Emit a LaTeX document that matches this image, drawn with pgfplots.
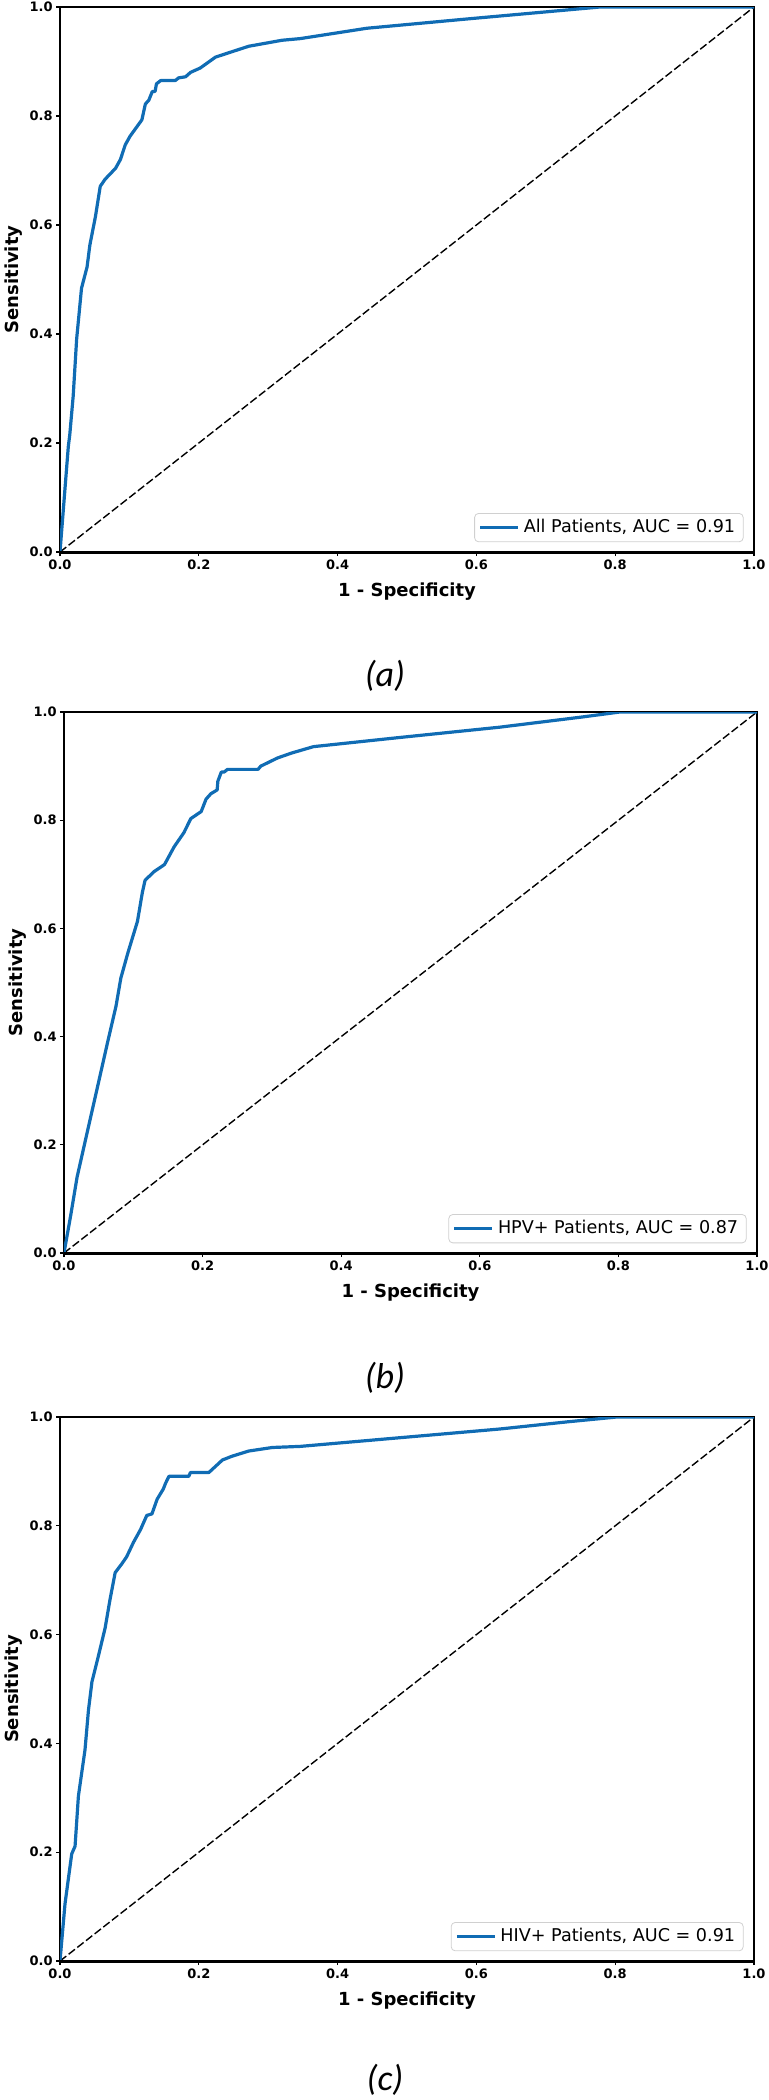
\documentclass[border=0pt]{standalone}
\usepackage{pgfplots}
\pgfplotsset{compat=1.18}
\usepackage{fontspec}
\setmainfont{DejaVu Sans}
\newfontfamily\capfont{Carlito}
\definecolor{roc}{RGB}{16,108,180}
\definecolor{legedge}{RGB}{208,208,208}

\pgfplotsset{
 rocaxis/.style={
  scale only axis,
  anchor=south west,
  xmin=0, xmax=1, ymin=0, ymax=1,
  xtick={0,0.2,0.4,0.6,0.8,1.0},
  ytick={0,0.2,0.4,0.6,0.8,1.0},
  tick align=outside,
  tick pos=left,
  major tick length=2pt,
  tick style={black, line width=0.6pt},
  axis line style={line width=0.8pt},
  /pgf/number format/fixed,
  /pgf/number format/fixed zerofill,
  /pgf/number format/precision=1,
  /pgf/number format/assume math mode=true,
  tick label style={font=\fontsize{6.5}{7}\selectfont\bfseries, inner sep=1.5pt},
  xlabel={1 - Specificity},
  ylabel={Sensitivity},
  label style={font=\fontsize{9}{10}\selectfont\bfseries},
  xlabel style={at={(axis description cs:0.5,0)}, anchor=center, yshift=-20pt},
  ylabel style={at={(axis description cs:-0.067,0.5)}, anchor=center},
  legend style={at={(0.985,0.018)}, anchor=south east, draw=legedge, rounded corners=2pt,
    font=\fontsize{8.8}{10}\selectfont, inner xsep=2pt, inner ysep=1pt},
  legend cell align=left,
  legend image code/.code={\draw[#1] (0pt,0pt) -- (19pt,0pt);},
  after end axis/.code={\draw[line width=1.5pt] (rel axis cs:0,0) -- (rel axis cs:1,0);},
 }
}

\begin{document}
\begin{tikzpicture}
\useasboundingbox (0pt,0pt) rectangle (384.5pt,-1050pt);

% ---------------- (a) ----------------
\begin{axis}[rocaxis, at={(30pt,-276pt)}, width=347pt, height=272.5pt]
\addplot[black, line width=0.7pt, dash pattern=on 4pt off 1.5pt, forget plot] coordinates {(0,0) (1,1)};
\addplot[roc, line width=1.6pt, line join=round] coordinates {
(0,0) (0.012,0.194) (0.014,0.214) (0.019,0.286) (0.024,0.391) (0.028,0.444)
(0.031,0.484) (0.039,0.523) (0.043,0.563) (0.051,0.615) (0.058,0.671)
(0.065,0.684) (0.080,0.704) (0.087,0.720) (0.094,0.747) (0.101,0.763)
(0.118,0.793) (0.123,0.822) (0.128,0.829) (0.133,0.845) (0.137,0.845)
(0.139,0.859) (0.145,0.865) (0.166,0.865) (0.171,0.870) (0.181,0.872)
(0.188,0.880) (0.202,0.888) (0.224,0.908) (0.243,0.916) (0.272,0.928)
(0.320,0.939) (0.346,0.942) (0.442,0.961) (0.586,0.978) (0.682,0.989)
(0.778,1.0) (1.0,1.0)
};
\addlegendentry{All Patients, AUC = 0.91}
\end{axis}

% ---------------- (b) ----------------
\begin{axis}[rocaxis, at={(32pt,-626.5pt)}, width=346.5pt, height=270.5pt]
\addplot[black, line width=0.7pt, dash pattern=on 4pt off 1.5pt, forget plot] coordinates {(0,0) (1,1)};
\addplot[roc, line width=1.6pt, line join=round] coordinates {
(0,0) (0.0096,0.069) (0.019,0.141) (0.034,0.226) (0.048,0.305) (0.063,0.390)
(0.075,0.456) (0.082,0.508) (0.092,0.554) (0.106,0.613) (0.113,0.666)
(0.117,0.689) (0.130,0.705) (0.145,0.718) (0.159,0.751) (0.173,0.777)
(0.183,0.803) (0.198,0.816) (0.205,0.839) (0.212,0.849) (0.221,0.856)
(0.222,0.872) (0.227,0.889) (0.231,0.889) (0.236,0.894) (0.280,0.894)
(0.284,0.900) (0.308,0.915) (0.328,0.924) (0.360,0.936) (0.485,0.953)
(0.629,0.972) (0.749,0.991) (0.802,1.0) (1,1)
};
\addlegendentry{HPV+ Patients, AUC = 0.87}
\end{axis}

% ---------------- (c) ----------------
\begin{axis}[rocaxis, at={(30pt,-980.5pt)}, width=347pt, height=272pt]
\addplot[black, line width=0.7pt, dash pattern=on 4pt off 1.5pt, forget plot] coordinates {(0,0) (1,1)};
\addplot[roc, line width=1.6pt, line join=round] coordinates {
(0,0) (0.0072,0.105) (0.0169,0.197) (0.0217,0.211) (0.0265,0.303) (0.036,0.388)
(0.041,0.461) (0.046,0.513) (0.055,0.559) (0.065,0.612) (0.072,0.664)
(0.0795,0.714) (0.089,0.730) (0.096,0.743) (0.106,0.770) (0.116,0.793)
(0.125,0.819) (0.1325,0.822) (0.140,0.849) (0.149,0.868) (0.152,0.878)
(0.157,0.891) (0.1855,0.891) (0.188,0.898) (0.2145,0.898) (0.234,0.921)
(0.248,0.928) (0.272,0.9375) (0.306,0.944) (0.346,0.946) (0.490,0.962)
(0.634,0.978) (0.730,0.991) (0.802,1.0) (1,1)
};
\addlegendentry{HIV+ Patients, AUC = 0.91}
\end{axis}

\node[font=\capfont\itshape\fontsize{18}{20}\selectfont] at (192.5pt,-338pt) {(a)};
\node[font=\capfont\itshape\fontsize{18}{20}\selectfont] at (192.5pt,-689pt) {(b)};
\node[font=\capfont\itshape\fontsize{18}{20}\selectfont] at (192.5pt,-1040pt) {(c)};
\end{tikzpicture}
\end{document}
